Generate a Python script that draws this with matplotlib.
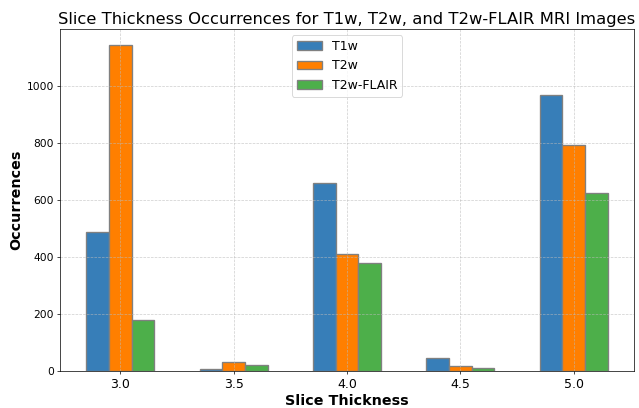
import matplotlib
matplotlib.use("Agg")
import matplotlib.pyplot as plt
import numpy as np

thickness = [3.0, 3.5, 4.0, 4.5, 5.0]
t1w = [487, 7, 660, 46, 967]
t2w = [1141, 33, 411, 17, 791]
flair = [178, 22, 379, 12, 625]
series_names = ["T1w", "T2w", "T2w-FLAIR"]
colors = ["#377eb8", "#ff7f00", "#4daf4a"]

DPI = 64
fig, ax = plt.subplots(figsize=(639 / DPI, 408 / DPI), dpi=DPI)
x = np.array(thickness)
w = 0.1
for i, (vals, name, c) in enumerate(zip([t1w, t2w, flair], series_names, colors)):
    ax.bar(x + (i - 1) * w, vals, width=w, color=c, edgecolor="gray", linewidth=1.5, label=name)

ax.set_xticks(thickness)
ax.set_xticklabels([f"{t:.1f}" for t in thickness], fontsize=14)
ax.tick_params(axis="y", labelsize=12)
ax.grid(True, linestyle="--", linewidth=0.8, color="#bbbbbb", alpha=0.7)
ax.set_xlabel("Slice Thickness", fontsize=16, fontweight="bold")
ax.set_ylabel("Occurrences", fontsize=16, fontweight="bold")
ax.set_title("Slice Thickness Occurrences for T1w, T2w, and T2w-FLAIR MRI Images", fontsize=18.4)
ax.legend(loc="upper center", fontsize=14)
fig.subplots_adjust(left=0.094, right=0.992, top=0.929, bottom=0.09)
fig.savefig("out.png", dpi=DPI)
